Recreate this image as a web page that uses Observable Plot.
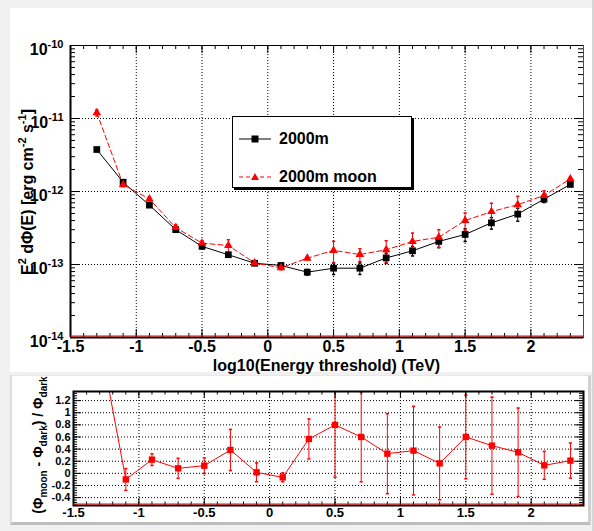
<!DOCTYPE html>
<html><head><meta charset="utf-8">
<script src="https://cdn.jsdelivr.net/npm/d3@7"></script>
<script src="https://cdn.jsdelivr.net/npm/@observablehq/plot@0.6"></script>
<style>
html,body{margin:0;padding:0;background:#f0f0f0;}
#wrap{position:relative;width:594px;height:531px;background:#f0f0f0;overflow:hidden;font-family:"Liberation Sans",Arial,Helvetica,sans-serif;font-weight:bold;}
.pad{position:absolute;background:#fff;box-sizing:border-box;}
#padTop{left:10px;top:8px;width:582px;height:364px;}
#padBot{left:10px;top:375px;width:581px;height:150px;border-left:2px solid #dcdcdc;border-top:1px solid #e8e8e8;border-right:3px solid #d0d0d0;border-bottom:3px solid #bdbdbd;}
#edgeR{position:absolute;left:592px;top:0;width:2px;height:531px;background:#d6d6d6;}
.svgbox{position:absolute;left:0;}
#legend{position:absolute;left:232px;top:116px;width:180px;height:72px;border:1px solid #000;background:#fff;box-shadow:2px 2px 0 #000;box-sizing:border-box;}
.lrow{position:absolute;left:6px;height:20px;display:flex;align-items:center;}
.lrow span{font-size:16px;font-weight:bold;margin-left:7px;color:#000;}
</style>
</head><body>
<div id="wrap">
  <div id="edgeR"></div>
  <div class="pad" id="padTop"></div>
  <div class="pad" id="padBot"></div>
  <div class="svgbox" id="topBox" style="top:0px"></div>
  <div class="svgbox" id="botBox" style="top:375px"></div>
  <div id="legend">
    <div class="lrow" style="top:12px"><svg width="33" height="12"><line x1="0" y1="6" x2="32" y2="6" stroke="#000" stroke-width="1"/><rect x="12.5" y="2.5" width="7" height="7" fill="#000"/></svg><span>2000m</span></div>
    <div class="lrow" style="top:50px"><svg width="33" height="12"><line x1="0" y1="6" x2="32" y2="6" stroke="red" stroke-width="1" stroke-dasharray="4,3"/><path d="M16,2 L20,9 L12,9 Z" fill="red"/></svg><span>2000m moon</span></div>
  </div>
</div>
<script>
// ---- data ----
const energy = [-1.3,-1.1,-0.9,-0.7,-0.5,-0.3,-0.1,0.1,0.3,0.5,0.7,0.9,1.1,1.3,1.5,1.7,1.9,2.1,2.3];
const flux2000 = [3.76e-12,1.34e-12,6.5e-13,3.0e-13,1.77e-13,1.36e-13,1.04e-13,9.7e-14,7.85e-14,8.9e-14,8.9e-14,1.23e-13,1.54e-13,2.07e-13,2.58e-13,3.72e-13,4.9e-13,7.85e-13,1.25e-12];
const flux2000RelErr = [0.04,0.06,0.04,0.04,0.04,0.04,0.04,0.04,0.09,0.18,0.18,0.16,0.15,0.18,0.2,0.18,0.2,0.1,0.06];
const fluxMoon = [1.2e-11,1.24e-12,7.9e-13,3.2e-13,1.96e-13,1.82e-13,1.05e-13,9.0e-14,1.22e-13,1.56e-13,1.37e-13,1.59e-13,2.07e-13,2.36e-13,4.0e-13,5.3e-13,6.6e-13,8.8e-13,1.49e-12];
const fluxMoonRelErr = [0.1,0.06,0.06,0.1,0.08,0.2,0.05,0.06,0.05,0.33,0.2,0.33,0.3,0.27,0.27,0.3,0.3,0.16,0.05];
const ratio = [2.2,-0.10,0.226,0.083,0.127,0.385,0.017,-0.066,0.567,0.798,0.60,0.325,0.375,0.165,0.60,0.457,0.347,0.132,0.21];
const ratioErr = [0.4,0.18,0.096,0.165,0.13,0.34,0.155,0.074,0.33,0.86,0.74,0.66,0.73,0.6,0.69,0.8,0.73,0.23,0.29];

const xLabelsTop = [-1.5,-1,-0.5,0,0.5,1,1.5,2];
const yLabelsTop = [1e-14,1e-13,1e-12,1e-11,1e-10];
const xLabelsBot = [-1.5,-1,-0.5,0,0.5,1,1.5,2];
const yLabelsBot = [-0.4,-0.2,0,0.2,0.4,0.6,0.8,1,1.2];

const rows = energy.map((x,i)=>({x, b:flux2000[i], be:flux2000RelErr[i], r:fluxMoon[i], re:fluxMoonRelErr[i], q:ratio[i], qe:ratioErr[i]}));

// axis tick positions (decoration)
const xMinor = d3.range(-15, 25).map(k=>k/10);
const xMajor = xLabelsTop;
const yMinorLog = [];
for (let e=-14; e<=-11; e++) for (let k=2;k<=9;k++) yMinorLog.push(k*Math.pow(10,e));
const yMinorBot = d3.range(-13, 34).map(k=>k*0.04);

const capSymbol = {draw(ctx, size){ const w = Math.sqrt(size/Math.PI); ctx.moveTo(-w,0); ctx.lineTo(w,0);} };
const font = "'Liberation Sans', Arial, Helvetica, sans-serif";
const dots = "1,2";

// ---- top panel ----
const TW=594, TH=376, TL=70, TR=11, TT=45, TB=39;
const tIW = TW-TL-TR, tIH = TH-TT-TB;
const topPlot = Plot.plot({
  width: TW, height: TH, marginLeft: TL, marginRight: TR, marginTop: TT, marginBottom: TB,
  x: {domain: [-1.5, 2.4]},
  y: {type: "log", domain: [1e-14, 1e-10]},
  style: {fontFamily: font, background: "transparent", overflow: "visible", color: "#000"},
  marks: [
    Plot.ruleX(xLabelsTop.filter(d=>d>-1.5), {stroke:"#000", strokeDasharray: dots}),
    Plot.ruleY([1e-13,1e-12,1e-11], {stroke:"#000", strokeDasharray: dots}),
    Plot.line(rows, {x:"x", y:"b", stroke:"#000", strokeWidth:1}),
    Plot.line(rows, {x:"x", y:"r", stroke:"red", strokeWidth:1, strokeDasharray:"5,3"}),
    Plot.ruleX(rows, {x:"x", y1:d=>d.b*(1-d.be), y2:d=>d.b*(1+d.be), stroke:"#000"}),
    Plot.dot(rows, {x:"x", y:d=>d.b*(1-d.be), symbol:capSymbol, r:1.6, fill:"none", stroke:"#000"}),
    Plot.dot(rows, {x:"x", y:d=>d.b*(1+d.be), symbol:capSymbol, r:1.6, fill:"none", stroke:"#000"}),
    Plot.ruleX(rows, {x:"x", y1:d=>d.r*(1-d.re), y2:d=>d.r*(1+d.re), stroke:"red"}),
    Plot.dot(rows, {x:"x", y:d=>d.r*(1-d.re), symbol:capSymbol, r:1.6, fill:"none", stroke:"red"}),
    Plot.dot(rows, {x:"x", y:d=>d.r*(1+d.re), symbol:capSymbol, r:1.6, fill:"none", stroke:"red"}),
    Plot.dot(rows, {x:"x", y:"b", symbol:"square", r:3.8, fill:"#000", stroke:null}),
    Plot.dot(rows, {x:"x", y:"r", symbol:"triangle", r:3.2, fill:"red", stroke:null}),
    // inside ticks
    Plot.ruleX(xMinor, {insetTop: tIH-4, stroke:"#000"}),
    Plot.ruleX(xMajor, {insetTop: tIH-8, stroke:"#000"}),
    Plot.ruleX(xMinor, {insetBottom: tIH-4, stroke:"#000"}),
    Plot.ruleX(xMajor, {insetBottom: tIH-8, stroke:"#000"}),
    Plot.ruleY(yMinorLog, {insetRight: tIW-5, stroke:"#000"}),
    Plot.ruleY(yLabelsTop, {insetRight: tIW-9, stroke:"#000"}),
    Plot.ruleY(yMinorLog, {insetLeft: tIW-5, stroke:"#000"}),
    Plot.ruleY(yLabelsTop, {insetLeft: tIW-9, stroke:"#000"}),
    Plot.frame({stroke:"#000", strokeWidth:1}),
    Plot.ruleX([-1.5], {stroke:"#000", strokeWidth:2}),
    Plot.ruleY([1e-14], {stroke:"#000", strokeWidth:2}),
    Plot.ruleY([1e-14], {stroke:"red", strokeWidth:1, dy:-1.5}),
    Plot.ruleX([2.4], {stroke:"red", strokeWidth:1}),
    Plot.axisX({ticks: xLabelsTop, tickSize:0, tickPadding:3, tickFormat:d=>String(d), label:null, fontSize:16, fontWeight:"bold"}),
    Plot.axisY({ticks: yLabelsTop, tickSize:0, tickPadding:7, tickFormat:d=>"10^"+Math.round(Math.log10(d)), label:null, fontSize:16, fontWeight:"bold", dy:4})
  ]
});

// ---- bottom panel ----
const BW=594, BH=150, BL=73, BR=11, BT=16, BB=20;
const bIW = BW-BL-BR, bIH = BH-BT-BB;
const botPlot = Plot.plot({
  width: BW, height: BH, marginLeft: BL, marginRight: BR, marginTop: BT, marginBottom: BB,
  x: {domain: [-1.5, 2.4]},
  y: {domain: [-0.53, 1.35]},
  style: {fontFamily: font, background: "transparent", overflow: "visible", color: "#000"},
  marks: [
    Plot.ruleX(xLabelsBot.filter(d=>d>-1.5), {stroke:"#000", strokeDasharray: dots}),
    Plot.ruleY(yLabelsBot, {stroke:"#000", strokeDasharray: dots}),
    Plot.line(rows, {x:"x", y:"q", stroke:"red", strokeWidth:1, clip:true}),
    Plot.ruleX(rows, {x:"x", y1:d=>d.q-d.qe, y2:d=>d.q+d.qe, stroke:"red", clip:true}),
    Plot.dot(rows.filter(d=>d.q-d.qe>-0.53), {x:"x", y:d=>d.q-d.qe, symbol:capSymbol, r:1.6, fill:"none", stroke:"red", clip:true}),
    Plot.dot(rows.filter(d=>d.q+d.qe<1.35), {x:"x", y:d=>d.q+d.qe, symbol:capSymbol, r:1.6, fill:"none", stroke:"red", clip:true}),
    Plot.dot(rows.filter(d=>d.q<1.35), {x:"x", y:"q", symbol:"square", r:3.6, fill:"red", stroke:null}),
    Plot.ruleX(xMinor, {insetTop: bIH-3.5, stroke:"#000"}),
    Plot.ruleX(xMajor, {insetTop: bIH-7, stroke:"#000"}),
    Plot.ruleX(xMinor, {insetBottom: bIH-3.5, stroke:"#000"}),
    Plot.ruleX(xMajor, {insetBottom: bIH-7, stroke:"#000"}),
    Plot.ruleY(yMinorBot, {insetRight: bIW-4, stroke:"#000"}),
    Plot.ruleY(yLabelsBot, {insetRight: bIW-8, stroke:"#000"}),
    Plot.ruleY(yMinorBot, {insetLeft: bIW-4, stroke:"#000"}),
    Plot.ruleY(yLabelsBot, {insetLeft: bIW-8, stroke:"#000"}),
    Plot.frame({stroke:"#000", strokeWidth:2}),
    Plot.ruleY([-0.53], {stroke:"red", strokeWidth:1, dy:-1.5}),
    Plot.axisX({ticks: xLabelsBot, tickSize:0, tickPadding:2, tickFormat:d=>String(d), label:null, fontSize:13, fontWeight:"bold"}),
    Plot.axisY({ticks: yLabelsBot, tickSize:0, tickPadding:3, tickFormat:d=>String(Math.round(d*10)/10), label:null, fontSize:11, fontWeight:"bold"})
  ]
});

document.getElementById("topBox").appendChild(topPlot);
document.getElementById("botBox").appendChild(botPlot);

// superscripts in log tick labels
d3.select(topPlot).selectAll('g[aria-label="y-axis tick label"] text').each(function(){
  const t = this.textContent;
  const m = /^10\^(.*)$/.exec(t);
  if (!m) return;
  const s = d3.select(this); s.text(null);
  s.append("tspan").text("10");
  s.append("tspan").attr("dy","-7").attr("font-size","11").text(m[1]);
});

// axis titles
const st = d3.select(topPlot);
st.append("text").attr("x", TL + tIW/2).attr("y", 371).attr("text-anchor","middle")
  .attr("font-size",16).attr("font-weight","bold").attr("fill","#000").text("log10(Energy threshold) (TeV)");
const yt = st.append("text").attr("transform","translate(33,192) rotate(-90)").attr("text-anchor","middle")
  .attr("font-size",16).attr("font-weight","bold").attr("fill","#000");
yt.append("tspan").text("E");
yt.append("tspan").attr("dy",-7).attr("font-size",11).text("2");
yt.append("tspan").attr("dy",7).text(" dΦ(E) [erg cm");
yt.append("tspan").attr("dy",-7).attr("font-size",11).text("-2");
yt.append("tspan").attr("dy",7).text(" s");
yt.append("tspan").attr("dy",-7).attr("font-size",11).text("-1");
yt.append("tspan").attr("dy",7).text("]");

const sb = d3.select(botPlot);
const bt = sb.append("text").attr("transform","translate(43,70) rotate(-90)").attr("text-anchor","middle")
  .attr("font-size",14).attr("font-weight","bold").attr("fill","#000");
bt.append("tspan").text("(Φ");
bt.append("tspan").attr("dy",4).attr("font-size",10).text("moon");
bt.append("tspan").attr("dy",-4).text(" - Φ");
bt.append("tspan").attr("dy",4).attr("font-size",10).text("dark");
bt.append("tspan").attr("dy",-4).text(") / Φ");
bt.append("tspan").attr("dy",4).attr("font-size",10).text("dark");
</script>
</body></html>
